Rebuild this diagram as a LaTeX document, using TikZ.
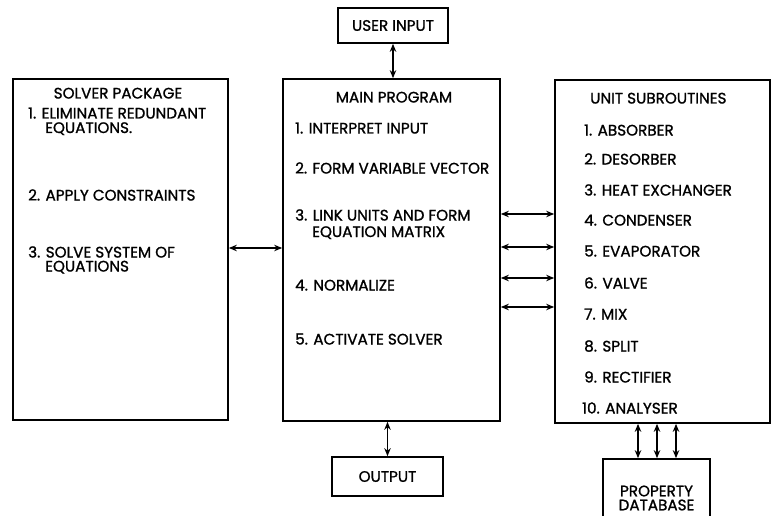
\documentclass[tikz,border=0pt]{standalone}
\usepackage{fontspec}
\setmainfont{Poppins}[FakeBold=1.2]
\usetikzlibrary{arrows.meta}
\begin{document}
\begin{tikzpicture}[x=1pt,y=-1pt,
  box/.style={draw, line width=1.7pt, rectangle, inner sep=0pt},
  txt/.style={font=\fontsize{15.2}{16}\selectfont, inner sep=0pt},
  arr/.style={line width=1.5pt, {Stealth[length=8pt,width=6.5pt]}-{Stealth[length=8pt,width=6.5pt]}}]
\clip (0,0) rectangle (771,516);
\useasboundingbox (0,0) rectangle (771,516);
% boxes
\node[box, minimum width=110pt, minimum height=35pt, txt] (user) at (393,25.5) {USER INPUT};
\node[box, minimum width=215pt, minimum height=341pt] (solver) at (120.5,249.5) {};
\node[box, minimum width=217pt, minimum height=342pt] (main) at (391.5,250) {};
\node[box, minimum width=215pt, minimum height=343pt] (unit) at (662.5,251.5) {};
\node[box, minimum width=111pt, minimum height=39pt, txt] (output) at (387.5,476.5) {OUTPUT};
\node[box, minimum width=107pt, minimum height=78pt] (prop) at (656.5,498) {};
\node[txt, align=center] (proptxt) at (656.5,498) {PROPERTY\\[-2pt]DATABASE};
% solver text
\node[txt, anchor=base] (s0) at (118,98.5) {SOLVER PACKAGE};
\node[txt, anchor=base west] (s1) at (28,118.5) {1. ELIMINATE REDUNDANT};
\node[txt, anchor=base west] (s1b) at (45,133) {EQUATIONS.};
\node[txt, anchor=base west] (s2) at (28,200.5) {2. APPLY CONSTRAINTS};
\node[txt, anchor=base west] (s3) at (28,257.5) {3. SOLVE SYSTEM OF};
\node[txt, anchor=base west] (s3b) at (45,271.5) {EQUATIONS};
% main text
\node[txt, anchor=base] (m0) at (394,102.5) {MAIN PROGRAM};
\node[txt, anchor=base west] (m1) at (295,133.5) {1. INTERPRET INPUT};
\node[txt, anchor=base west] (m2) at (295,173.5) {2. FORM VARIABLE VECTOR};
\node[txt, anchor=base west] (m3) at (295,220.5) {3. LINK UNITS AND FORM};
\node[txt, anchor=base west] (m3b) at (312,237) {EQUATION MATRIX};
\node[txt, anchor=base west] (m4) at (295,290.5) {4. NORMALIZE};
\node[txt, anchor=base west] (m5) at (295,344.5) {5. ACTIVATE SOLVER};
% unit text
\node[txt, anchor=base west] (u0) at (590,103.5) {UNIT SUBROUTINES};
\node[txt, anchor=base west] (u1) at (584,135.5) {1. ABSORBER};
\node[txt, anchor=base west] (u2) at (584,164.5) {2. DESORBER};
\node[txt, anchor=base west] (u3) at (584,195.5) {3. HEAT EXCHANGER};
\node[txt, anchor=base west] (u4) at (584,225.5) {4. CONDENSER};
\node[txt, anchor=base west] (u5) at (584,256.5) {5. EVAPORATOR};
\node[txt, anchor=base west] (u6) at (584,288.5) {6. VALVE};
\node[txt, anchor=base west] (u7) at (584,319.5) {7. MIX};
\node[txt, anchor=base west] (u8) at (584,351.5) {8. SPLIT};
\node[txt, anchor=base west] (u9) at (584,382.5) {9. RECTIFIER};
\node[txt, anchor=base west] (u10) at (582,413.5) {10. ANALYSER};
% connectors
\draw[arr] (user.south) -- (user.south |- main.north);
\draw[arr] (output.north |- main.south) -- (output.north);
\draw[arr] (solver.east |- 0,248) -- (main.west |- 0,248);
\foreach \yy in {214,247,278,307}
  \draw[arr] (main.east |- 0,\yy) -- (unit.west |- 0,\yy);
\foreach \xx in {638,657,676}
  \draw[arr] (unit.south -| \xx,0) -- (prop.north -| \xx,0);
\end{tikzpicture}
\end{document}
